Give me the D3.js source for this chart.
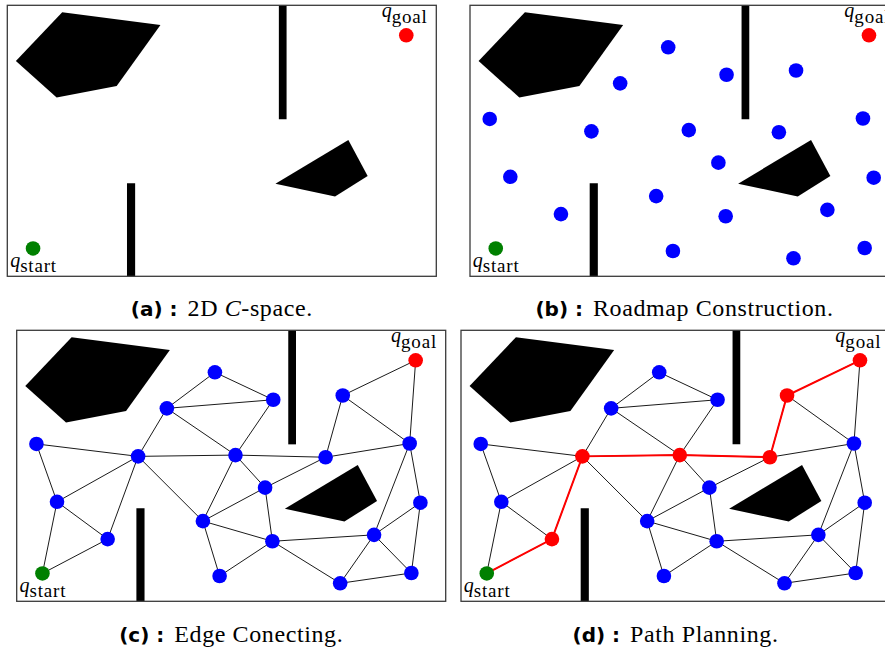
<!DOCTYPE html>
<html>
<head>
<meta charset="utf-8">
<script src="https://cdn.jsdelivr.net/npm/d3@7"></script>
<style>
  html, body { margin: 0; padding: 0; background: #fff; }
  svg { display: block; }
  .serif { font-family: "Liberation Serif", "DejaVu Serif", serif; }
  .tag { font-family: "DejaVu Sans", sans-serif; font-weight: bold; }
</style>
</head>
<body>
<svg id="fig" width="885" height="652"></svg>
<script>
// ---- Workspace (world units, y pointing up) ----
const WORLD_W = 10;
const WORLD_H = 6.32;

// Roadmap vertices
const nodeIds = ["s", "g", "n3", "n4", "n5", "n6", "n7", "n8", "n9", "n10", "n11",
                 "n12", "n13", "n14", "n15", "n16", "n17", "n18", "n19", "n20", "n21"];
const nodeX = [0.60, 9.30, 4.62, 5.98, 3.50, 7.60, 0.46, 2.83, 5.10, 7.20, 9.16,
               5.79, 0.94, 9.41, 4.34, 2.12, 5.96, 8.33, 4.73, 7.54, 9.20];
const nodeY = [0.65, 5.62, 5.34, 4.70, 4.50, 4.80, 3.67, 3.38, 3.41, 3.36, 3.68,
               2.65, 2.32, 2.30, 1.87, 1.45, 1.40, 1.55, 0.59, 0.42, 0.66];

// Collision-free connections between vertices
const edgeFrom = ["s", "s", "n13", "n13", "n13", "n16", "n7", "n8", "n8", "n8",
                  "n5", "n5", "n5", "n3", "n4", "n9", "n9", "n9", "n12", "n12",
                  "n12", "n15", "n15", "n19", "n17", "n17", "n10", "n10", "n6", "n6",
                  "g", "n11", "n11", "n14", "n14", "n18", "n18", "n20"];
const edgeTo   = ["n13", "n16", "n16", "n7", "n8", "n8", "n8", "n5", "n9", "n15",
                  "n3", "n4", "n9", "n4", "n9", "n12", "n15", "n10", "n15", "n10",
                  "n17", "n17", "n19", "n17", "n18", "n20", "n6", "n11", "n11", "g",
                  "n11", "n18", "n14", "n18", "n21", "n20", "n21", "n21"];

// Planned route from start to goal
const pathIds = ["s", "n16", "n8", "n9", "n10", "n6", "g"];

// Obstacles
const pentagonX = [1.28, 3.57, 2.55, 1.15, 0.20];
const pentagonY = [6.16, 5.86, 4.44, 4.17, 5.02];
const quadX = [7.95, 8.40, 7.64, 6.25];
const quadY = [3.18, 2.34, 1.86, 2.16];
const wallTopX = [6.33, 6.51, 6.51, 6.33];
const wallTopY = [6.32, 6.32, 3.66, 3.66];
const wallBottomX = [2.79, 2.98, 2.98, 2.79];
const wallBottomY = [2.17, 2.17, 0.00, 0.00];

// Sub-figure captions
const captionTags = ["(a)", "(b)", "(c)", "(d)"];
const captionBodies = [
  [["2D ", false], ["C", true], ["-space.", false]],
  [["Roadmap Construction.", false]],
  [["Edge Conecting.", false]],
  [["Path Planning.", false]]
];
const stages = ["space", "samples", "edges", "path"];

// ---- Layout ----
const PW = 429, PH = 271;
const panelOrigins = [[7.3, 5.3], [470, 5.3], [16.7, 330.3], [461, 330.3]];
const captionBaselines = [316, 316, 642, 642];

const x = d3.scaleLinear().domain([0, WORLD_W]).range([0, PW]);
const y = d3.scaleLinear().domain([0, WORLD_H]).range([PH, 0]);

const nodes = nodeIds.map((id, i) => ({ id, x: nodeX[i], y: nodeY[i] }));
const byId = new Map(nodes.map(n => [n.id, n]));
const edges = edgeFrom.map((a, i) => [byId.get(a), byId.get(edgeTo[i])]);
const pathSet = new Set(pathIds);
const pathNodes = pathIds.map(id => byId.get(id));

const obstacles = [
  d3.zip(pentagonX, pentagonY),
  d3.zip(quadX, quadY),
  d3.zip(wallTopX, wallTopY),
  d3.zip(wallBottomX, wallBottomY)
];

const svg = d3.select("#fig");
const line = d3.line().x(d => x(d.x)).y(d => y(d.y));

stages.forEach((stage, level) => {
  const [ox, oy] = panelOrigins[level];
  const g = svg.append("g").attr("transform", `translate(${ox},${oy})`);

  g.append("rect").attr("width", PW).attr("height", PH).attr("fill", "#fff");

  // obstacles
  g.selectAll("polygon.obs").data(obstacles).join("polygon")
    .attr("class", "obs")
    .attr("points", d => d.map(p => `${x(p[0])},${y(p[1])}`).join(" "))
    .attr("fill", "#000");

  // roadmap edges
  if (level >= 2) {
    g.selectAll("line.edge").data(edges).join("line")
      .attr("class", "edge")
      .attr("x1", d => x(d[0].x)).attr("y1", d => y(d[0].y))
      .attr("x2", d => x(d[1].x)).attr("y2", d => y(d[1].y))
      .attr("stroke", "#000").attr("stroke-width", 0.9);
  }
  if (level >= 3) {
    g.append("path").datum(pathNodes)
      .attr("d", line).attr("fill", "none")
      .attr("stroke", "#ff0000").attr("stroke-width", 2);
  }

  // vertices
  const shown = level >= 1 ? nodes : nodes.filter(n => n.id === "s" || n.id === "g");
  g.selectAll("circle.node").data(shown).join("circle")
    .attr("class", "node")
    .attr("cx", d => x(d.x)).attr("cy", d => y(d.y)).attr("r", 7.3)
    .attr("fill", d => {
      if (d.id === "s") return "#008000";
      if (d.id === "g") return "#ff0000";
      if (level >= 3 && pathSet.has(d.id)) return "#ff0000";
      return "#0000ff";
    });

  // q labels
  const sNode = byId.get("s"), gNode = byId.get("g");
  const addLabel = (n, dx, dy, sub) => {
    const t = g.append("text").attr("class", "serif")
      .attr("x", x(n.x) + dx).attr("y", y(n.y) + dy)
      .style("font-size", "20px").attr("fill", "#000");
    t.append("tspan").style("font-style", "italic").text("q");
    t.append("tspan").attr("dy", 5.5).style("font-size", "19px")
      .style("letter-spacing", "0.8px").text(sub);
  };
  addLabel(gNode, -24.6, -18, "goal");
  addLabel(sNode, -22.9, 18.4, "start");

  // frame
  g.append("rect").attr("width", PW).attr("height", PH)
    .attr("fill", "none").attr("stroke", "#3a3a3a").attr("stroke-width", 1.3);

  // caption
  const cap = svg.append("text")
    .attr("x", ox + PW / 2).attr("y", captionBaselines[level])
    .attr("text-anchor", "middle").attr("fill", "#000");
  cap.append("tspan").attr("class", "tag")
    .style("font-size", "20px").text(captionTags[level] + " :\u2002");
  captionBodies[level].forEach(([txt, it]) => {
    cap.append("tspan").attr("class", "serif")
      .style("font-size", "24px")
      .style("letter-spacing", "0.6px")
      .style("font-style", it ? "italic" : "normal")
      .text(txt);
  });
});
</script>
</body>
</html>
